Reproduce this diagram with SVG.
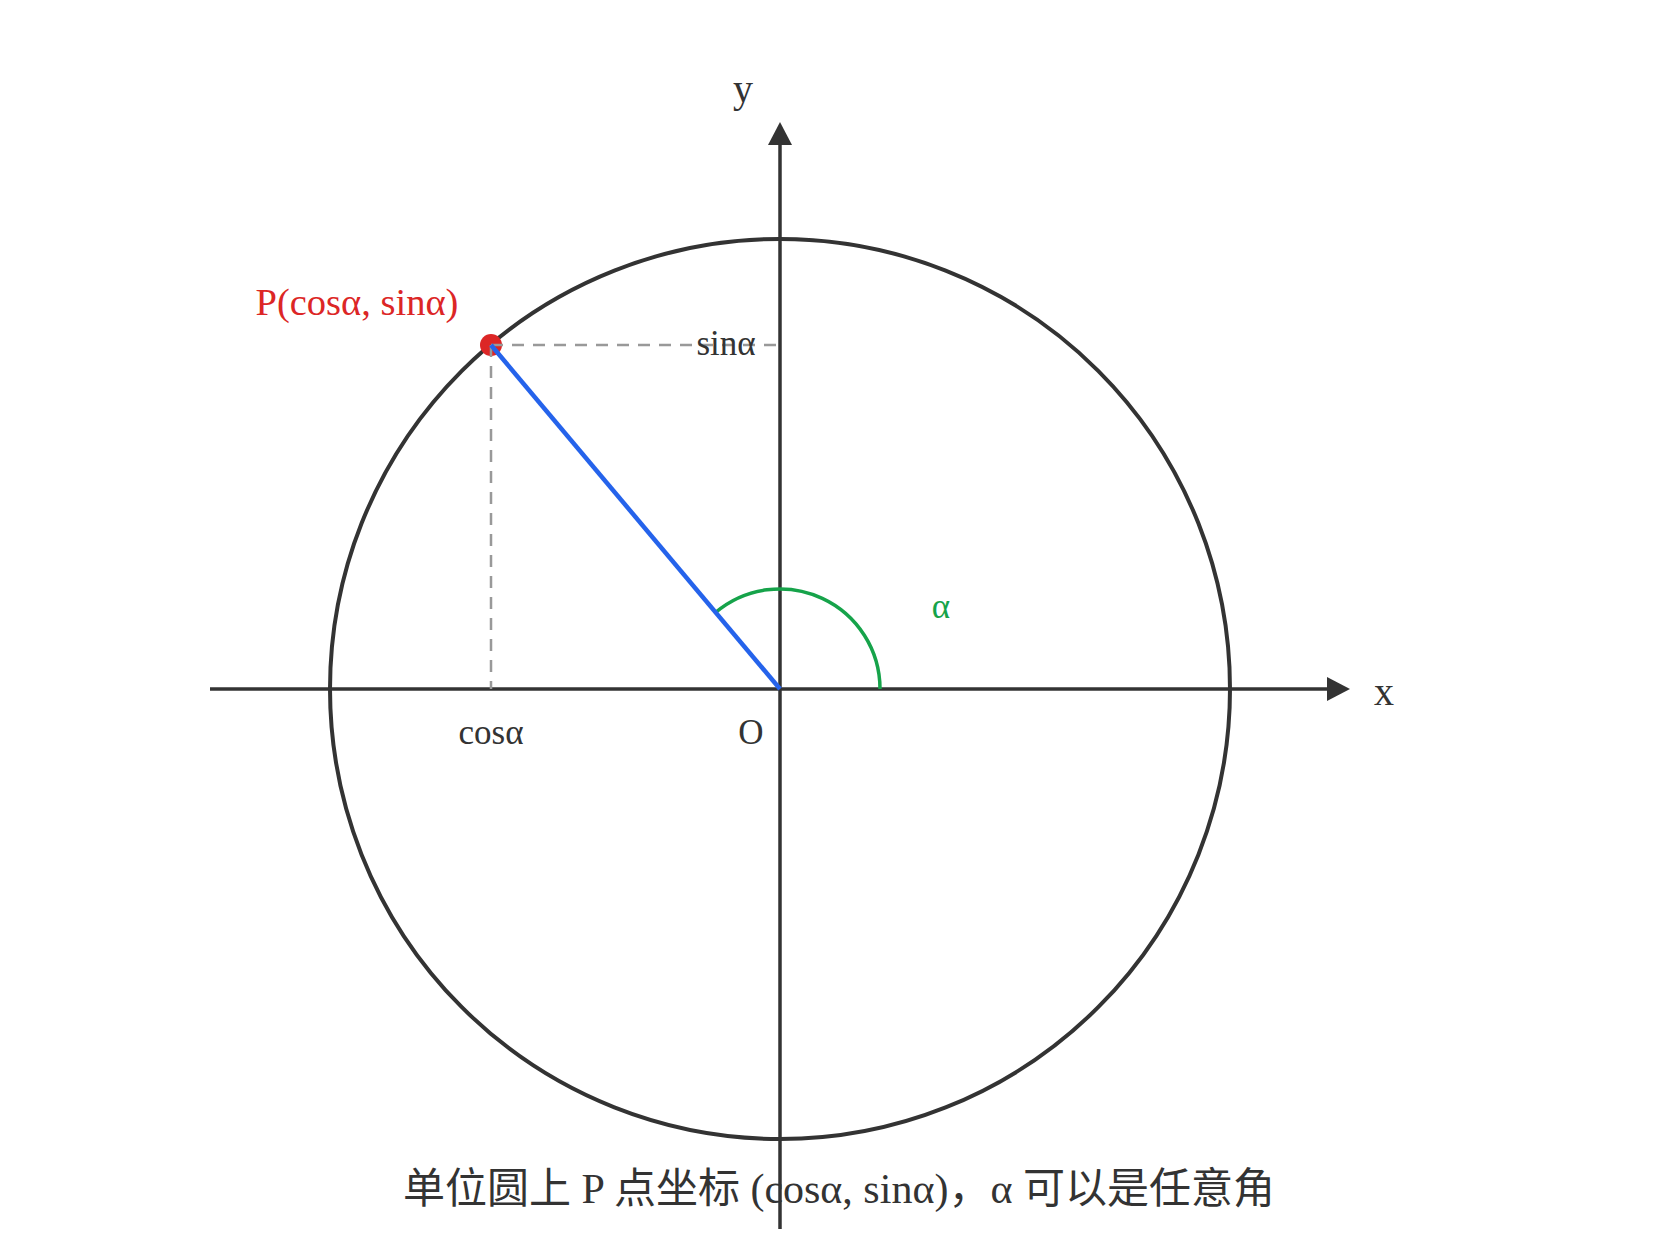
<svg xmlns="http://www.w3.org/2000/svg" width="1680" height="1260" viewBox="0 0 1680 1260">
  <style>
    .serif { font-family: "Liberation Serif", "Times New Roman", serif; }
    .cap { font-family: "Liberation Serif", "Noto Sans CJK SC", serif; }
    .ink { fill: #333333; }
    .axis { stroke: #333333; stroke-width: 3.5; fill: none; }
    .guide { stroke: #999999; stroke-width: 2.5; stroke-dasharray: 12 9; fill: none; }
  </style>
  <defs>
    <marker id="arrow" markerUnits="userSpaceOnUse" markerWidth="24" markerHeight="24" viewBox="0 0 24 24" refX="1" refY="12" orient="auto">
      <path d="M0,0 L23,12 L0,24 Z" fill="#333333"/>
    </marker>
  </defs>
  <rect width="1680" height="1260" fill="#ffffff"/>

  <g id="caption">
    <text class="cap ink" x="839" y="1203" font-size="42" text-anchor="middle">单位圆上 P 点坐标 (cosα, sinα)，α 可以是任意角</text>
  </g>

  <g id="unit-circle">
    <circle cx="780" cy="689" r="450" fill="none" stroke="#333333" stroke-width="4"/>
  </g>

  <g id="connectors">
    <line id="x-axis" class="axis" x1="210" y1="689" x2="1328" y2="689" marker-end="url(#arrow)"/>
    <line id="y-axis" class="axis" x1="780" y1="1229" x2="780" y2="144" marker-end="url(#arrow)"/>
    <path id="angle-arc" d="M880,689 A100,100 0 0 0 715.7,612.4" fill="none" stroke="#16a34a" stroke-width="3.5"/>
  </g>

  <g id="point-P">
    <circle cx="491" cy="345" r="11" fill="#dc2626"/>
    <text class="serif" x="357" y="315" font-size="38.5" fill="#dc2626" text-anchor="middle">P(cosα, sinα)</text>
  </g>

  <g id="projections">
    <line class="guide" x1="491" y1="345" x2="780" y2="345"/>
    <line class="guide" x1="491" y1="345" x2="491" y2="689"/>
  </g>

  <g id="radius">
    <line x1="491" y1="345" x2="780" y2="689" stroke="#2563eb" stroke-width="4.5"/>
  </g>

  <g id="labels">
    <text class="serif ink" x="743" y="102" font-size="40" text-anchor="middle">y</text>
    <text class="serif ink" x="1384" y="705" font-size="40" text-anchor="middle">x</text>
    <text class="serif ink" x="726" y="355" font-size="35" text-anchor="middle">sinα</text>
    <text class="serif ink" x="491" y="744" font-size="35" text-anchor="middle">cosα</text>
    <text class="serif ink" x="751" y="744" font-size="35" text-anchor="middle">O</text>
    <text class="serif" x="941" y="618" font-size="35" fill="#16a34a" text-anchor="middle">α</text>
  </g>
</svg>
